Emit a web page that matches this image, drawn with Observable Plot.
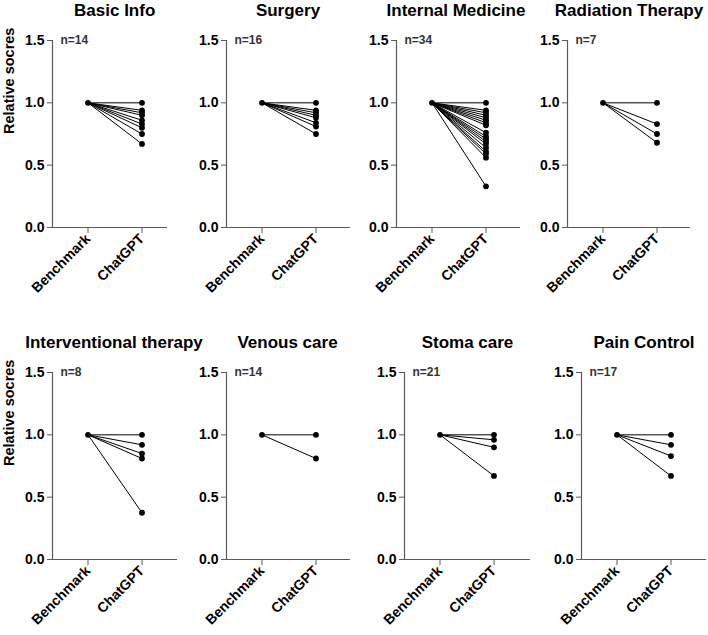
<!DOCTYPE html>
<html>
<head>
<meta charset="utf-8">
<script src="https://cdn.jsdelivr.net/npm/d3@7"></script>
<script src="https://cdn.jsdelivr.net/npm/@observablehq/plot@0.6"></script>
<style>
  html, body { margin: 0; padding: 0; background: white; }
  #chart { position: relative; width: 708px; height: 635px; background: white; overflow: hidden;
           font-family: "Liberation Sans", Arial, Helvetica, sans-serif; }
  .ttl { position: absolute; font-size: 17px; line-height: 17px; font-weight: bold; color: black;
         white-space: nowrap; transform: translateX(-50%); }
  .pnl { position: absolute; }
</style>
</head>
<body>
<div id="chart"></div>
<script>
// ---------- data ----------
const categories = ["Benchmark", "ChatGPT"];
const titles = ["Basic Info", "Surgery", "Internal Medicine", "Radiation Therapy",
                "Interventional therapy", "Venous care", "Stoma care", "Pain Control"];
const nCounts = [14, 16, 34, 7, 8, 14, 21, 17];
const yLabel = "Relative socres";
const yTicks = [0, 0.5, 1.0, 1.5];
const benchmark = 1.0;

const basicInfo = [1.00, 0.94, 0.92, 0.90, 0.86, 0.83, 0.80, 0.75, 0.67];
const surgery = [1.00, 0.94, 0.92, 0.90, 0.88, 0.84, 0.81, 0.75];
const internalMedicine = [1.00, 0.94, 0.92, 0.90, 0.88, 0.86, 0.84, 0.82, 0.76, 0.73, 0.71,
                          0.69, 0.67, 0.64, 0.61, 0.59, 0.56, 0.33];
const radiationTherapy = [1.00, 0.83, 0.75, 0.68];
const interventionalTherapy = [1.00, 0.92, 0.85, 0.81, 0.375];
const venousCare = [1.00, 0.81];
const stomaCare = [1.00, 0.96, 0.90, 0.67];
const painControl = [1.00, 0.92, 0.83, 0.67];

const series = [basicInfo, surgery, internalMedicine, radiationTherapy,
                interventionalTherapy, venousCare, stomaCare, painControl];

// ---------- layout (pixels) ----------
const rows = [{top: 40, bottom: 227, titleTop: 1.5}, {top: 372, bottom: 559, titleTop: 333.5}];
const layout = [
  {row: 0, axisX: 52,  end: 167, titleX: 114.7},
  {row: 0, axisX: 226, end: 350, titleX: 288},
  {row: 0, axisX: 396, end: 520, titleX: 456},
  {row: 0, axisX: 567, end: 690, titleX: 629},
  {row: 1, axisX: 52,  end: 177, titleX: 114},
  {row: 1, axisX: 226, end: 350, titleX: 287.5},
  {row: 1, axisX: 404, end: 530, titleX: 467.5},
  {row: 1, axisX: 581, end: 706, titleX: 644}
];
const benchOffset = 35.5, catStep = 54;
const axisColor = "#5a5a5a";
const font = '"Liberation Sans", Arial, Helvetica, sans-serif';

const chart = document.getElementById("chart");

layout.forEach((cfg, i) => {
  const row = rows[cfg.row];
  const W = cfg.end - cfg.axisX;
  const H = row.bottom - row.top;
  const mL = 52, mR = 34, mT = 14, mB = 80;
  const xDomain = [-benchOffset / catStep, (W - benchOffset) / catStep];
  const values = series[i];

  const marks = [
    Plot.ruleY([0], {stroke: axisColor, strokeWidth: 1.2}),
    Plot.ruleX([xDomain[0]], {stroke: axisColor, strokeWidth: 1.2}),
    Plot.axisY({ticks: yTicks, tickFormat: d3.format(".1f"), tickSize: 5, tickPadding: 3,
                stroke: axisColor, fill: "black", label: null, fontSize: 14, fontWeight: "bold"}),
    Plot.axisX({ticks: [0, 1], tickFormat: d => categories[d], tickSize: 6, tickPadding: 3,
                tickRotate: -45, stroke: axisColor, fill: "black", label: null, fontSize: 14, fontWeight: "bold"}),
    Plot.link(values, {x1: 0, y1: benchmark, x2: 1, y2: d => d, stroke: "black", strokeWidth: 1}),
    Plot.dot([benchmark], {x: 0, y: d => d, r: 2.9, fill: "black", stroke: "none"}),
    Plot.dot(values, {x: 1, y: d => d, r: 2.9, fill: "black", stroke: "none"}),
    Plot.text([`n=${nCounts[i]}`], {text: d => d, frameAnchor: "top-left", dx: 8, textAnchor: "start",
               lineAnchor: "middle", fontSize: 12, fontWeight: "bold", fill: "#333"})
  ];
  if (i % 4 === 0) {
    marks.push(Plot.text([yLabel], {text: d => d, frameAnchor: "left", dx: -43.5, rotate: -90,
               fontSize: 14.5, fontWeight: "bold", fill: "black"}));
  }

  const svg = Plot.plot({
    width: W + mL + mR, height: H + mT + mB,
    marginLeft: mL, marginRight: mR, marginTop: mT, marginBottom: mB,
    style: {background: "transparent", overflow: "visible", fontFamily: font,
            fontWeight: "bold", fontSize: "14px", color: "black"},
    x: {domain: xDomain},
    y: {domain: [0, 1.5]},
    marks
  });
  svg.classList.add("pnl");
  svg.style.left = (cfg.axisX - mL) + "px";
  svg.style.top = (row.top - mT) + "px";
  svg.style.maxWidth = "none";
  chart.appendChild(svg);

  const t = document.createElement("div");
  t.className = "ttl";
  t.textContent = titles[i];
  t.style.left = cfg.titleX + "px";
  t.style.top = row.titleTop + "px";
  chart.appendChild(t);
});
</script>
</body>
</html>
